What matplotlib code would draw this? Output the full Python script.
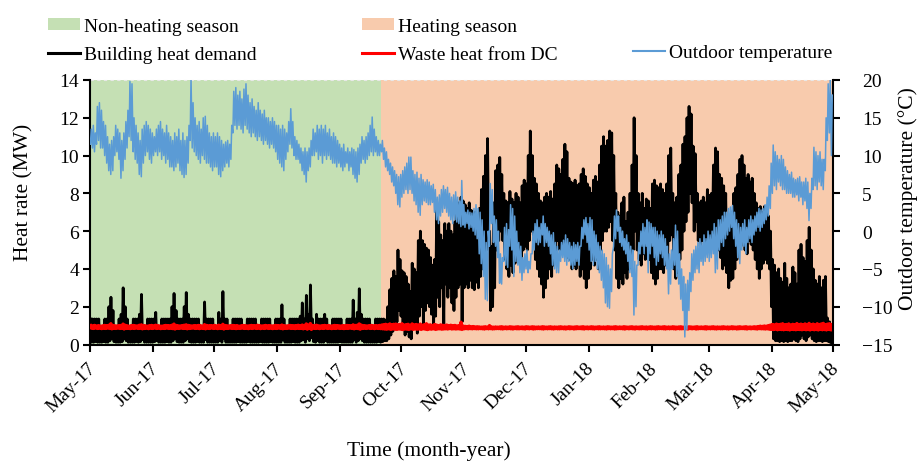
import matplotlib
matplotlib.use("Agg")
import numpy as np
import pandas as pd
import matplotlib.pyplot as plt
import matplotlib.dates as mdates
import matplotlib.transforms as mtransforms
from matplotlib.lines import Line2D

plt.rcParams['font.family'] = ['Liberation Serif', 'DejaVu Serif']

# ---------------- data (daily values, 1 May 2017 - 30 Apr 2018) ----------------
start_date = '2017-05-01'
end_date = '2018-05-01'
heating_start = '2017-09-21'

# outdoor temperature, daily maximum / minimum (deg C)
temp_hi = [
    13.5, 14, 13, 16.5, 17, 16, 14.5, 14, 12.5, 11.5,
    12, 12.5, 14, 13.5, 13, 12, 13, 14.5, 16, 19.8,
    19.5, 15, 14, 13, 12, 13.5, 14, 14.5, 14, 13.5,
    13, 12.5, 13.5, 14, 14.5, 13.5, 13, 14, 13, 12.5,
    12, 13, 12.5, 13.5, 12, 13, 12, 12.5, 14, 20.3,
    17, 15, 14, 14.5, 13.5, 15, 15.2, 14, 13, 12.5,
    13, 12.5, 13, 12.5, 12, 11.5, 11.8, 12, 11.5, 14,
    18.5, 19, 18, 18.5, 17.5, 18.8, 19.5, 18, 17, 17.5,
    16.5, 16, 17, 16, 15.5, 16, 15, 15, 14.5, 15,
    14.5, 14, 14, 13.5, 14, 13.5, 13, 14.5, 16.2, 14.5,
    12.5, 12, 11.5, 11, 10.5, 11, 10.5, 11, 12, 13.5,
    13, 14, 13.5, 14, 13.5, 14, 13, 13.5, 12.5, 13,
    12.5, 12, 11.5, 11, 11.5, 10.5, 11, 10.5, 11, 10.8,
    10.5, 11, 11.5, 12.5, 12, 12.5, 13, 14, 15.1, 13.5,
    12.5, 12, 11.5, 12, 11, 10.5, 9.5, 9, 8.5, 8,
    7.5, 7.2, 7.5, 8, 8.5, 9, 9.8, 9.8, 8, 7.5,
    7.8, 7, 7.5, 6.8, 6.5, 6.8, 6.5, 6, 6.2, 5.5,
    4.5, 4.8, 5.5, 6, 5.5, 5.8, 5, 4.5, 4.8, 5.2,
    4.5, 4, 6.7, 3.5, 2.5, 2.8, 2.5, 2.4, 3, 3.5,
    3, 2.5, 1.5, 0, -1.5, 0, 6.3, 5.5, 2, 1.5,
    0, -3, -3.5, 0.5, 1, 0.2, 3.5, 3, 2, 0,
    -1.5, -2, -3.5, -3, -2.5, -4, -3, 0, 1, 1.5,
    0.5, 1, 2, 1, 0.5, 0, -0.5, -0.2, -1.5, -2,
    -2.5, -1.5, -1.2, -0.5, -1, -1.5, -2, -1.5, -1.8, -1.5,
    -2, 0.5, 1.5, 1.8, 1, 1.8, 1.5, 0, -0.5, -1.5,
    -2, -2.5, -3, -3.5, -4.5, -5, -3, 2, 2.8, 2,
    0.5, 0, -1, -0.5, -1.5, -2, -2.5, -4, -4.5, -1.5,
    0, 1, 0.5, 1.5, 1.2, 1, 0.5, 0.5, 0, -0.5,
    0, -0.5, -1, -2, -3, -2.5, -1, 0.8, 0, -3,
    -5, -6, -7, -6.5, -5.5, -3, -2.5, -2, -1.5, -1,
    -1.5, -0.5, -1, 0, -0.5, 0, 1, 0.5, 1.5, 1.5,
    2, 2.5, 2.5, 3, 3.2, 3.4, 2.5, 1.5, 1, 0.5,
    1, 1.5, 0.5, 1.5, 2, 1.5, 2, 2.5, 3, 2.8,
    3, 3.5, 4.5, 6, 9, 11.4, 10.5, 10, 9.5, 10,
    9.5, 8.5, 8, 7.5, 7.8, 7, 6.8, 7, 7.2, 6.5,
    6.5, 7, 6.5, 5, 7, 11.1, 10.5, 10, 10.5, 9.5,
    9.5, 15, 19.5, 20, 18,
]
temp_lo = [
    11.5, 11, 10.5, 11.5, 12, 11, 11, 10, 9, 8,
    7.5, 8, 10, 10.5, 9.5, 7, 8, 9.5, 11, 12.5,
    12, 10.5, 9.5, 9, 7.5, 7.2, 9, 10, 10.5, 9.5,
    9, 10, 10.5, 10, 10.5, 9.5, 10, 9, 9.5, 8.5,
    8.5, 8, 8.5, 9, 8, 7.5, 7.1, 7.5, 9, 12,
    11, 10.5, 10, 9.5, 9, 10, 9.5, 9, 9, 8.5,
    8, 8.5, 8.5, 7.5, 7.2, 8, 8.5, 9, 8.5, 9.5,
    13, 14, 13.5, 14, 13.5, 13, 14, 13.5, 13, 12.5,
    13, 12.5, 12, 12.5, 12, 11.5, 12, 11.5, 11, 11.5,
    11, 10.5, 9.5, 9, 8.5, 8, 9.5, 10.5, 11.5, 11,
    10, 9.5, 9.5, 9, 8, 7.5, 6.5, 8, 8.5, 10,
    10, 10.5, 9.5, 10, 9, 10, 9.5, 10, 9.5, 9,
    9, 8.5, 9, 8.5, 8, 8.5, 9, 8, 8.5, 7.5,
    7, 6.5, 7.5, 9, 9.5, 9, 9.5, 10, 10.5, 10,
    10.5, 10, 10, 10.5, 9.5, 8.5, 8, 7.5, 6.5, 6,
    5, 3.5, 3.2, 4.5, 5, 5.5, 5, 5.5, 5, 4,
    3.5, 2.5, 2.1, 3.5, 4, 3.8, 3.5, 3.5, 3.8, 2.5,
    1.5, 1, 2, 2.5, 3, 2.5, 2, 1.5, 1, 1.5,
    1.2, 1, 0.6, 0.8, 0.5, 1, 0.3, 0.5, 0, -0.5,
    -1, -3, -4.3, -6, -9, -9.2, -2, 1, -1.5, -2,
    -3.5, -6.9, -7, -4, -4.5, -4.8, -2, -2.5, -6, -4,
    -4.5, -5.5, -6.5, -5.5, -5, -5.5, -5, -3, -2.5, -1.5,
    -1.8, -1.5, -0.5, -2, -1.5, -2, -3, -4.5, -5, -5.5,
    -5.5, -4, -3.5, -4, -4.5, -4, -4.5, -5, -4.5, -4,
    -4.5, -2, -1, -0.5, -1.5, -2.5, -4, -4.5, -4, -5,
    -5.5, -6.5, -7.5, -9.5, -10, -10.2, -8, -2, -1, 0,
    -1.5, -2, -2.5, -3, -4, -5.5, -6, -11.1, -10, -4.5,
    -3, -2, -3, -2, -5.5, -3, -2, -3.5, -4.5, -4,
    -3, -3.5, -4.5, -5, -8.3, -7, -5, -4.5, -6, -7,
    -9, -10.5, -14, -13, -10.5, -8, -6.5, -5.5, -5, -5.5,
    -4, -4.5, -4, -3.5, -4, -3.5, -3, -5.5, -5, -2.5,
    -1.5, -2, -1, -0.5, 0, 0.5, -1, -2, -3.5, -4.3,
    -2.5, -2, -3, -1.5, -1, -1.5, -0.5, 0, 0.5, 0,
    0.5, 1, 1.5, 2, 3, 5, 6, 5.5, 6.5, 6,
    5.5, 5.5, 5, 5, 5, 4.5, 4.5, 4.8, 4, 4.5,
    3.5, 4, 3, 1.4, 3, 5.5, 6, 5.5, 6.5, 6,
    5.5, 8, 12, 13, 10,
]

# building heat demand, daily maximum / minimum (MW)
heat_hi = [
    1.35, 1.35, 1.35, 1.35, 1.35, 0.9, 0.9, 1.35, 1.35, 2.0,
    2.5, 1.8, 0.9, 0.9, 1.35, 1.6, 3.0, 2.0, 1.35, 0.9,
    0.9, 1.35, 1.35, 1.35, 1.6, 2.65, 0.9, 0.9, 1.35, 1.35,
    1.35, 1.35, 1.7, 0.9, 0.9, 1.35, 1.35, 1.35, 1.35, 1.35,
    2.0, 2.7, 1.8, 1.35, 1.35, 1.35, 2.0, 2.75, 1.6, 1.35,
    1.35, 1.35, 1.35, 1.35, 0.9, 0.9, 2.25, 1.35, 1.35, 1.35,
    1.35, 0.9, 0.9, 1.7, 1.35, 2.8, 1.35, 1.35, 0.9, 0.9,
    1.35, 1.35, 1.35, 1.35, 1.35, 0.9, 0.9, 1.35, 1.35, 1.35,
    1.35, 1.35, 0.9, 0.9, 1.35, 1.35, 1.35, 1.35, 1.35, 0.9,
    0.9, 1.35, 1.35, 1.35, 2.1, 1.35, 0.9, 0.9, 1.35, 1.35,
    1.35, 1.35, 1.35, 1.5, 2.2, 1.35, 2.6, 1.6, 3.15, 1.35,
    0.9, 1.6, 1.35, 1.35, 1.35, 1.6, 1.35, 0.9, 0.9, 1.35,
    1.35, 1.35, 1.35, 1.35, 0.9, 0.9, 1.35, 1.35, 1.35, 2.35,
    1.35, 1.7, 2.95, 1.6, 1.35, 1.35, 1.35, 1.35, 0.9, 0.9,
    1.35, 1.35, 1.35, 1.35, 1.35, 1.3, 2.0, 2.9, 3.5, 3.9,
    3.6, 5.0, 4.5, 3.9, 3.8, 3.6, 3.2, 2.8, 4.3, 4.0,
    3.8, 5.5, 6.0, 5.5, 5.3, 5.1, 5.0, 4.6, 4.2, 4.5,
    7.1, 6.5, 5.8, 5.5, 6.4, 6.0, 6.4, 6.0, 5.8, 6.5,
    7.0, 7.5, 7.8, 7.6, 7.4, 7.2, 7.5, 7.1, 6.9, 7.0,
    6.7, 7.2, 8.2, 8.9, 10.0, 10.9, 6.0, 5.2, 7.5, 9.2,
    9.5, 9.9, 9.0, 8.0, 7.6, 7.5, 8.1, 7.7, 7.5, 8.0,
    7.8, 7.5, 8.4, 8.7, 8.5, 10.0, 11.3, 10.0, 8.8, 8.5,
    8.0, 7.6, 7.5, 7.8, 8.0, 7.8, 8.1, 7.7, 8.5, 9.5,
    9.3, 9.0, 9.8, 10.6, 10.2, 8.8, 8.6, 8.5, 8.7, 8.4,
    8.5, 9.0, 9.3, 8.9, 8.5, 8.3, 8.0, 8.7, 8.9, 8.6,
    9.5, 10.5, 11.0, 10.5, 10.8, 11.3, 11.2, 10.0, 8.0, 7.0,
    6.8, 7.5, 7.8, 6.5, 7.0, 8.0, 9.5, 12.0, 10.0, 8.0,
    7.5, 8.0, 7.2, 7.7, 7.6, 7.2, 8.5, 8.7, 8.4, 8.3,
    8.5, 8.2, 8.0, 8.5, 10.0, 10.4, 8.0, 7.5, 7.8, 9.0,
    9.5, 10.6, 11.0, 12.0, 12.6, 12.2, 10.5, 10.1, 8.0, 7.5,
    7.6, 7.8, 7.5, 8.2, 7.9, 8.0, 9.5, 10.4, 10.2, 9.0,
    8.8, 8.4, 8.0, 6.5, 6.2, 7.0, 8.0, 8.3, 9.0, 9.8,
    10.0, 9.5, 8.8, 9.0, 8.6, 8.8, 8.0, 7.5, 7.2, 7.3,
    7.0, 7.3, 7.0, 6.8, 6.0, 4.5, 4.2, 3.8, 4.0, 3.5,
    3.3, 4.3, 3.5, 3.0, 3.2, 4.1, 3.8, 3.2, 5.0, 5.3,
    4.6, 4.4, 5.5, 6.2, 5.0, 4.0, 3.4, 3.2, 3.6, 3.0,
    3.4, 3.6, 1.4, 1.2, 0.9,
]
heat_lo = [
    0.12, 0.12, 0.15, 0.12, 0.12, 0.12, 0.15, 0.12, 0.12, 0.2,
    0.3, 0.15, 0.12, 0.12, 0.12, 0.15, 0.3, 0.2, 0.12, 0.12,
    0.12, 0.12, 0.15, 0.12, 0.15, 0.25, 0.12, 0.12, 0.12, 0.12,
    0.12, 0.15, 0.2, 0.12, 0.12, 0.12, 0.12, 0.15, 0.12, 0.12,
    0.2, 0.3, 0.15, 0.12, 0.12, 0.12, 0.2, 0.3, 0.15, 0.12,
    0.12, 0.12, 0.15, 0.12, 0.12, 0.12, 0.25, 0.12, 0.12, 0.12,
    0.12, 0.12, 0.12, 0.2, 0.12, 0.3, 0.12, 0.12, 0.12, 0.12,
    0.12, 0.12, 0.15, 0.12, 0.12, 0.12, 0.12, 0.15, 0.12, 0.12,
    0.12, 0.12, 0.12, 0.15, 0.12, 0.12, 0.12, 0.12, 0.15, 0.12,
    0.12, 0.12, 0.12, 0.12, 0.25, 0.12, 0.12, 0.12, 0.12, 0.15,
    0.12, 0.12, 0.12, 0.2, 0.25, 0.12, 0.3, 0.2, 0.35, 0.15,
    0.12, 0.2, 0.12, 0.12, 0.12, 0.2, 0.12, 0.12, 0.12, 0.12,
    0.12, 0.12, 0.15, 0.12, 0.12, 0.12, 0.12, 0.12, 0.12, 0.25,
    0.12, 0.2, 0.3, 0.2, 0.12, 0.12, 0.12, 0.12, 0.12, 0.12,
    0.12, 0.15, 0.12, 0.15, 0.2, 0.2, 0.3, 0.5, 0.7, 1.0,
    1.2, 1.8, 1.5, 0.8, 0.5, 0.7, 0.4, 0.3, 1.0, 1.2,
    0.6, 1.5, 2.0, 1.0, 1.8, 2.2, 2.0, 1.6, 0.9, 1.5,
    2.5, 2.0, 3.0, 1.0, 3.2, 2.5, 3.0, 2.2, 1.8, 2.5,
    3.0, 3.2, 1.2, 3.0, 3.2, 3.0, 3.4, 3.0, 2.9, 3.3,
    3.0, 3.6, 4.0, 4.3, 5.0, 5.5, 1.8, 2.0, 3.0, 5.0,
    5.5, 6.0, 5.5, 4.5, 4.0, 3.6, 4.2, 3.8, 4.3, 4.5,
    4.8, 4.5, 5.0, 5.2, 5.0, 5.5, 6.0, 5.8, 4.5, 4.0,
    3.6, 3.2, 2.5, 3.0, 3.5, 4.0, 3.6, 4.2, 4.5, 5.5,
    5.0, 5.0, 5.5, 5.2, 4.6, 4.5, 4.0, 4.2, 4.0, 4.5,
    3.6, 4.0, 3.5, 3.0, 3.5, 4.0, 4.5, 4.2, 4.5, 4.0,
    5.0, 5.5, 6.0, 6.0, 6.2, 6.5, 5.5, 5.0, 3.5, 3.0,
    3.5, 3.2, 3.8, 3.5, 4.0, 4.5, 5.0, 6.0, 5.0, 4.5,
    4.2, 4.8, 4.5, 5.0, 4.5, 3.8, 3.5, 3.2, 3.5, 4.0,
    4.0, 3.8, 4.2, 4.5, 5.5, 5.8, 4.0, 3.5, 3.8, 4.5,
    5.0, 6.0, 6.5, 7.0, 8.0, 7.5, 6.0, 6.5, 5.5, 5.2,
    5.5, 5.3, 5.5, 5.4, 5.2, 6.0, 5.8, 5.5, 5.0, 4.6,
    4.0, 4.2, 3.8, 3.0, 3.4, 3.5, 4.0, 4.5, 5.0, 5.2,
    5.5, 5.0, 4.8, 5.5, 5.3, 5.0, 4.5, 4.0, 3.5, 4.0,
    4.3, 4.5, 4.3, 4.0, 2.0, 0.3, 0.2, 0.2, 0.15, 0.2,
    0.15, 0.2, 0.15, 0.2, 0.2, 0.3, 0.2, 0.15, 0.3, 0.5,
    0.3, 0.2, 0.4, 0.5, 0.3, 0.2, 0.15, 0.2, 0.2, 0.15,
    0.2, 0.2, 0.15, 0.1, 0.1,
]

# waste heat from data centre, daily maximum / minimum (MW)
waste_hi = [
    1.00, 0.99, 1.01, 0.98, 1.00, 0.97, 0.99, 1.01, 1.00, 1.02,
    1.10, 1.01, 0.99, 0.98, 1.00, 1.01, 1.08, 1.02, 0.99, 0.97,
    1.00, 1.01, 0.99, 0.98, 1.02, 1.04, 1.00, 0.99, 0.97, 1.00,
    1.01, 0.99, 1.02, 1.00, 0.98, 0.97, 0.99, 1.01, 1.00, 0.99,
    1.02, 1.08, 1.01, 0.99, 0.98, 1.00, 1.02, 1.04, 1.01, 0.99,
    0.98, 1.00, 0.99, 1.01, 1.00, 0.97, 1.05, 1.01, 0.99, 1.00,
    0.99, 1.01, 0.98, 1.02, 1.00, 1.07, 1.01, 0.99, 0.98, 1.00,
    1.01, 0.99, 1.00, 0.97, 0.99, 1.01, 1.00, 0.98, 0.99, 1.01,
    1.00, 0.99, 1.02, 1.00, 0.98, 0.99, 1.01, 0.99, 1.00, 0.98,
    0.99, 1.01, 1.00, 0.99, 1.03, 1.00, 0.98, 0.99, 1.01, 1.00,
    0.99, 1.00, 1.02, 0.99, 1.03, 1.01, 1.09, 1.02, 1.11, 1.01,
    1.00, 1.02, 0.99, 0.98, 1.00, 1.01, 0.99, 1.00, 0.98, 0.99,
    1.01, 1.00, 0.99, 0.98, 1.00, 0.99, 1.01, 1.00, 0.99, 1.04,
    1.01, 1.02, 1.09, 1.03, 1.00, 0.99, 0.98, 1.00, 1.01, 0.99,
    1.00, 0.99, 1.01, 1.03, 1.05, 1.07, 1.04, 1.09, 1.05, 1.07,
    1.08, 1.04, 1.06, 1.10, 1.03, 1.05, 1.07, 1.02, 1.09, 1.04,
    1.06, 1.03, 1.08, 1.02, 1.05, 1.10, 1.03, 1.04, 1.01, 1.06,
    1.03, 1.00, 1.04, 1.02, 1.01, 1.03, 1.00, 1.02, 0.99, 1.01,
    0.98, 1.00, 1.18, 0.98, 0.96, 0.95, 0.97, 0.94, 0.95, 0.93,
    0.94, 0.93, 0.92, 0.93, 0.94, 0.92, 1.00, 0.93, 0.92, 0.93,
    0.92, 0.93, 0.94, 0.92, 0.93, 0.92, 0.94, 0.93, 0.92, 0.93,
    0.94, 0.92, 0.93, 0.92, 0.94, 0.93, 0.92, 0.94, 0.93, 0.92,
    0.93, 0.92, 0.94, 0.93, 0.92, 0.93, 0.94, 0.92, 0.93, 0.92,
    0.93, 0.94, 0.92, 0.93, 0.92, 0.94, 0.93, 0.92, 0.93, 0.94,
    0.92, 0.93, 0.94, 0.92, 0.93, 0.92, 0.94, 0.93, 0.92, 0.93,
    0.94, 0.92, 0.93, 0.92, 0.94, 0.93, 0.92, 0.93, 0.94, 0.92,
    0.93, 0.92, 0.94, 0.93, 0.92, 0.93, 0.94, 0.92, 0.93, 0.92,
    0.93, 0.94, 0.92, 0.93, 0.92, 0.94, 0.93, 0.92, 0.93, 0.94,
    0.92, 0.93, 0.94, 0.92, 0.93, 0.92, 0.94, 0.93, 0.92, 0.93,
    0.94, 0.92, 0.93, 0.92, 0.94, 0.93, 0.92, 0.93, 0.94, 0.92,
    0.93, 0.92, 0.94, 0.93, 0.92, 0.93, 0.94, 0.92, 0.93, 0.92,
    0.93, 0.94, 0.92, 0.93, 0.92, 0.94, 0.93, 0.92, 0.93, 0.94,
    0.92, 0.93, 0.94, 0.92, 0.93, 0.92, 0.94, 0.93, 0.95, 0.97,
    0.96, 0.98, 0.97, 1.00, 1.03, 1.06, 1.04, 1.08, 1.05, 1.07,
    1.10, 1.04, 1.06, 1.09, 1.03, 1.07, 1.05, 1.11, 1.06, 1.08,
    1.04, 1.09, 1.06, 1.12, 1.05, 1.08, 1.03, 1.10, 1.06, 1.09,
    1.12, 1.05, 1.08, 1.10, 1.06,
]
waste_lo = [
    0.86, 0.85, 0.87, 0.85, 0.86, 0.84, 0.86, 0.85, 0.87, 0.85,
    0.83, 0.86, 0.85, 0.87, 0.85, 0.86, 0.82, 0.85, 0.86, 0.84,
    0.86, 0.85, 0.87, 0.85, 0.86, 0.83, 0.85, 0.86, 0.84, 0.86,
    0.85, 0.87, 0.85, 0.86, 0.84, 0.86, 0.85, 0.87, 0.85, 0.86,
    0.84, 0.82, 0.86, 0.85, 0.87, 0.85, 0.86, 0.83, 0.85, 0.86,
    0.87, 0.85, 0.86, 0.84, 0.86, 0.85, 0.83, 0.86, 0.85, 0.87,
    0.85, 0.86, 0.84, 0.86, 0.85, 0.82, 0.86, 0.85, 0.87, 0.85,
    0.86, 0.84, 0.86, 0.85, 0.87, 0.85, 0.86, 0.84, 0.86, 0.85,
    0.87, 0.85, 0.86, 0.84, 0.86, 0.85, 0.87, 0.85, 0.86, 0.84,
    0.86, 0.85, 0.87, 0.85, 0.83, 0.86, 0.85, 0.87, 0.85, 0.86,
    0.84, 0.86, 0.85, 0.86, 0.83, 0.85, 0.81, 0.85, 0.80, 0.86,
    0.85, 0.86, 0.84, 0.86, 0.85, 0.87, 0.85, 0.86, 0.84, 0.86,
    0.85, 0.87, 0.85, 0.86, 0.84, 0.86, 0.85, 0.87, 0.85, 0.83,
    0.86, 0.84, 0.81, 0.85, 0.86, 0.85, 0.87, 0.85, 0.86, 0.84,
    0.86, 0.85, 0.84, 0.83, 0.82, 0.81, 0.83, 0.80, 0.82, 0.81,
    0.80, 0.82, 0.81, 0.79, 0.82, 0.81, 0.80, 0.83, 0.80, 0.82,
    0.81, 0.82, 0.80, 0.83, 0.81, 0.79, 0.82, 0.81, 0.83, 0.80,
    0.82, 0.83, 0.81, 0.82, 0.83, 0.82, 0.84, 0.82, 0.83, 0.82,
    0.83, 0.82, 0.80, 0.83, 0.84, 0.83, 0.84, 0.83, 0.84, 0.83,
    0.83, 0.84, 0.83, 0.82, 0.84, 0.83, 0.84, 0.82, 0.83, 0.84,
    0.84, 0.83, 0.82, 0.84, 0.83, 0.84, 0.83, 0.82, 0.84, 0.83,
    0.83, 0.84, 0.83, 0.82, 0.84, 0.83, 0.84, 0.82, 0.83, 0.84,
    0.84, 0.83, 0.82, 0.84, 0.83, 0.84, 0.83, 0.82, 0.84, 0.83,
    0.83, 0.84, 0.83, 0.82, 0.84, 0.83, 0.84, 0.82, 0.83, 0.84,
    0.84, 0.83, 0.82, 0.84, 0.83, 0.84, 0.83, 0.82, 0.84, 0.83,
    0.83, 0.84, 0.83, 0.82, 0.84, 0.83, 0.84, 0.82, 0.83, 0.84,
    0.84, 0.83, 0.82, 0.84, 0.83, 0.84, 0.83, 0.82, 0.84, 0.83,
    0.83, 0.84, 0.83, 0.82, 0.84, 0.83, 0.84, 0.82, 0.83, 0.84,
    0.84, 0.83, 0.82, 0.84, 0.83, 0.84, 0.83, 0.82, 0.84, 0.83,
    0.83, 0.84, 0.83, 0.82, 0.84, 0.83, 0.84, 0.82, 0.83, 0.84,
    0.84, 0.83, 0.82, 0.84, 0.83, 0.84, 0.83, 0.82, 0.84, 0.83,
    0.83, 0.84, 0.83, 0.82, 0.84, 0.83, 0.84, 0.82, 0.83, 0.84,
    0.84, 0.83, 0.82, 0.84, 0.83, 0.84, 0.83, 0.82, 0.84, 0.83,
    0.83, 0.82, 0.83, 0.81, 0.80, 0.79, 0.81, 0.78, 0.80, 0.79,
    0.78, 0.80, 0.79, 0.77, 0.80, 0.79, 0.78, 0.80, 0.79, 0.78,
    0.80, 0.78, 0.79, 0.77, 0.80, 0.78, 0.79, 0.77, 0.80, 0.78,
    0.79, 0.77, 0.80, 0.78, 0.79,
]

heat_ticks = [0, 2, 4, 6, 8, 10, 12, 14]
temp_ticks = [-15, -10, -5, 0, 5, 10, 15, 20]

labels = {
    'nonheat': 'Non-heating season',
    'heat': 'Heating season',
    'demand': 'Building heat demand',
    'waste': 'Waste heat from DC',
    'temp': 'Outdoor temperature',
}

for name, arr in [('temp_hi', temp_hi), ('temp_lo', temp_lo), ('heat_hi', heat_hi),
                  ('heat_lo', heat_lo), ('waste_hi', waste_hi), ('waste_lo', waste_lo)]:
    assert len(arr) == 365, (name, len(arr))

# ---------------- plotting ----------------
days = pd.date_range(start_date, periods=365, freq='D')


def interleave(t1, v1, t2, v2):
    t = np.empty(2 * len(t1), dtype='datetime64[ns]')
    v = np.empty(2 * len(t1))
    t[0::2] = np.asarray(t1, dtype='datetime64[ns]')
    t[1::2] = np.asarray(t2, dtype='datetime64[ns]')
    v[0::2] = v1
    v[1::2] = v2
    return t, v


t_temp, v_temp = interleave(days + pd.Timedelta(hours=5), temp_lo, days + pd.Timedelta(hours=15), temp_hi)
t_heat, v_heat = interleave(days + pd.Timedelta(hours=7), heat_hi, days + pd.Timedelta(hours=19), heat_lo)
t_waste, v_waste = interleave(days + pd.Timedelta(hours=6), waste_hi, days + pd.Timedelta(hours=18), waste_lo)

W, H = 921, 464
fig = plt.figure(figsize=(W / 100, H / 100), dpi=100)
ax = fig.add_axes([90 / W, (H - 345.5) / H, 743 / W, 264.5 / H])

c_green = '#C5E0B4'
c_orange = '#F8CBAD'
c_blue = '#5B9BD5'

span1 = ax.axvspan(pd.Timestamp(start_date), pd.Timestamp(heating_start), color=c_green, lw=0, zorder=0)
span2 = ax.axvspan(pd.Timestamp(heating_start), pd.Timestamp(end_date), color=c_orange, lw=0, zorder=0)
ax.axhline(14, color='#E8E8E8', lw=0.8, ls=(0, (3, 3)), zorder=1, clip_on=False)
ax.plot(t_heat, v_heat, color='black', lw=2.0, zorder=2)
ax.plot(t_waste, v_waste, color='#FF0000', lw=2.4, zorder=3)

ax.set_xlim(pd.Timestamp(start_date), pd.Timestamp(end_date))
ax.set_ylim(0, 14)
ax.set_yticks(heat_ticks)

ax2 = ax.twinx()
ax2.plot(t_temp, v_temp, color=c_blue, lw=1.1, zorder=4)
ax2.set_ylim(-15, 20)
ax2.set_yticks(temp_ticks)
ax2.set_xlim(pd.Timestamp(start_date), pd.Timestamp(end_date))

ax.xaxis.set_major_locator(mdates.MonthLocator())
ax.xaxis.set_major_formatter(mdates.DateFormatter('%b-%y'))

for a in (ax, ax2):
    a.spines['top'].set_visible(False)
    for s in a.spines.values():
        s.set_linewidth(1.5)
ax.spines['right'].set_visible(False)
ax2.spines['left'].set_visible(False)
ax2.spines['bottom'].set_visible(False)

ax.tick_params(axis='x', direction='out', length=5, width=1.5, labelsize=14, pad=10)
ax.tick_params(axis='y', direction='out', length=5, width=1.5, labelsize=14, pad=3)
ax2.tick_params(axis='y', direction='out', length=5, width=1.5, labelsize=14, pad=16)
shift = mtransforms.ScaledTranslation(3 / 100, 0, fig.dpi_scale_trans)
for lab in ax.get_xticklabels():
    lab.set_rotation(45)
    lab.set_ha('right')
    lab.set_va('center')
    lab.set_rotation_mode('anchor')
    lab.set_transform(lab.get_transform() + shift)

ax.set_xlabel('Time (month-year)', fontsize=15.5)
ax.xaxis.set_label_coords((429 - 90) / 743, (345.5 - 441) / 264.5)
ax.set_ylabel('Heat rate (MW)', fontsize=15.5)
ax.yaxis.set_label_coords((33 - 90) / 743, (345.5 - 192.5) / 264.5)
ax2.set_ylabel('Outdoor temperature (°C)', fontsize=15.5)
ax2.yaxis.set_label_coords((898 - 90) / 743, (345.5 - 198.5) / 264.5)

# legend (three columns placed like the original)
h_nonheat = span1
h_heat = span2
h_demand = Line2D([], [], color='black', lw=2.2)
h_waste = Line2D([], [], color='#FF0000', lw=2.2)
h_temp = Line2D([], [], color=c_blue, lw=1.5)
leg_kw = dict(frameon=False, fontsize=14, handlelength=1.65, handletextpad=0.2,
              borderpad=0, borderaxespad=0, labelspacing=0.6, handleheight=0.55)
fig.legend([h_nonheat, h_demand], [labels['nonheat'], labels['demand']], loc='center left',
           bbox_to_anchor=(48 / W, 1 - 41.5 / H), **leg_kw)
fig.legend([h_heat, h_waste], [labels['heat'], labels['waste']], loc='center left',
           bbox_to_anchor=(362 / W, 1 - 41.5 / H), **leg_kw)
fig.legend([h_temp], [labels['temp']], loc='center left',
           bbox_to_anchor=(633 / W, 1 - 54 / H), **leg_kw)

fig.savefig('out.png', dpi=100)
